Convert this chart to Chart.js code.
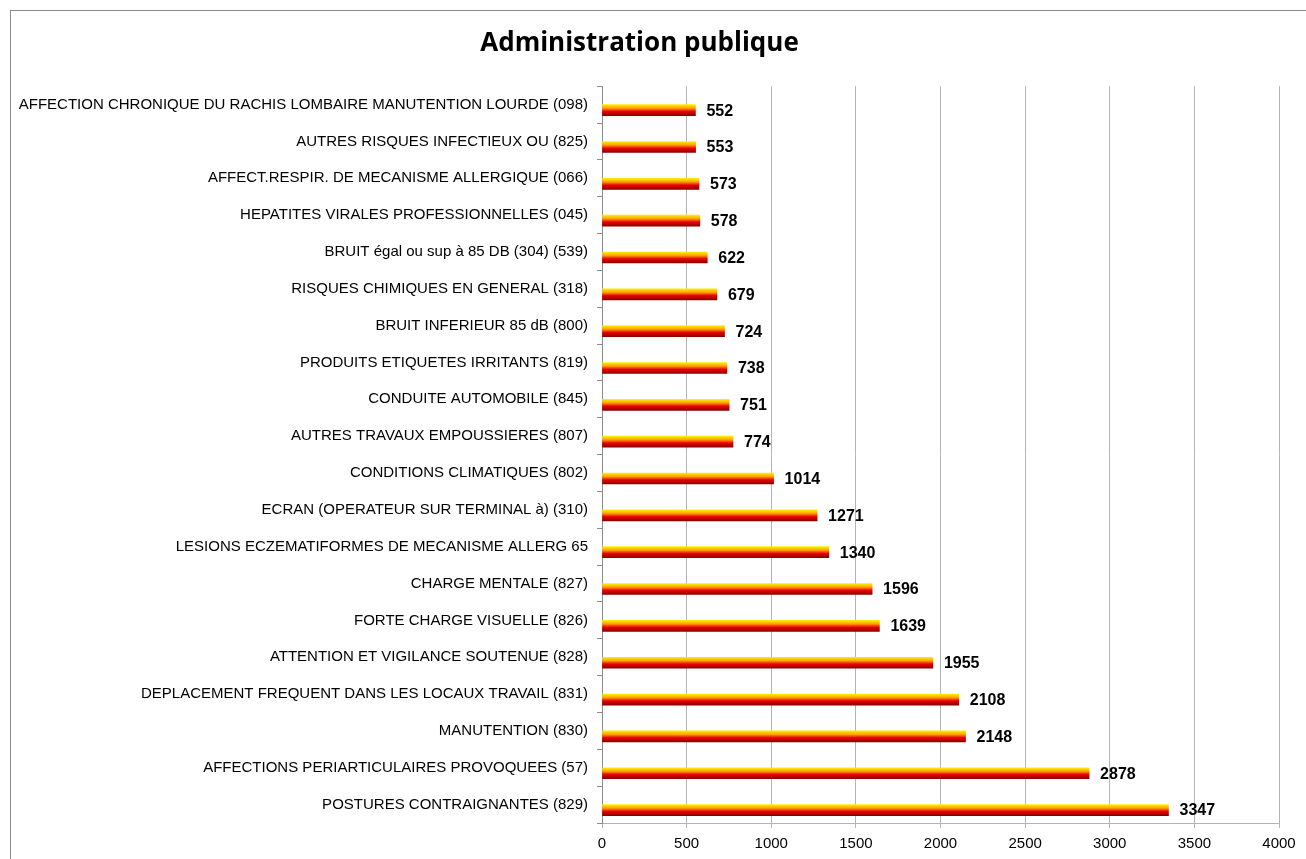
<!DOCTYPE html>
<html>
<head>
<meta charset="utf-8">
<script src="https://cdn.jsdelivr.net/npm/chart.js@4.4.0/dist/chart.umd.min.js"></script>
<style>
  html, body { margin: 0; padding: 0; background: #fff; }
  #wrap { position: relative; width: 1306px; height: 859px; overflow: hidden; }
  #frame { position: absolute; left: 10px; top: 10px; width: 1400px; height: 900px; border: 1px solid #8c8c8c; box-sizing: border-box; }
  canvas { position: absolute; left: 0; top: 0; }
</style>
</head>
<body>
<div id="wrap">
  <div id="frame"></div>
  <canvas id="myChart" width="1306" height="859"></canvas>
</div>
<script>
// categories top to bottom
const labels = [
  'AFFECTION CHRONIQUE DU RACHIS LOMBAIRE MANUTENTION LOURDE (098)',
  'AUTRES RISQUES INFECTIEUX OU (825)',
  'AFFECT.RESPIR. DE MECANISME ALLERGIQUE (066)',
  'HEPATITES VIRALES PROFESSIONNELLES (045)',
  'BRUIT égal ou sup à 85 DB (304) (539)',
  'RISQUES CHIMIQUES EN GENERAL (318)',
  'BRUIT INFERIEUR 85 dB (800)',
  'PRODUITS ETIQUETES IRRITANTS (819)',
  'CONDUITE AUTOMOBILE (845)',
  'AUTRES TRAVAUX EMPOUSSIERES (807)',
  'CONDITIONS CLIMATIQUES (802)',
  'ECRAN (OPERATEUR SUR TERMINAL à) (310)',
  'LESIONS ECZEMATIFORMES DE MECANISME ALLERG 65',
  'CHARGE MENTALE (827)',
  'FORTE CHARGE VISUELLE (826)',
  'ATTENTION ET VIGILANCE SOUTENUE (828)',
  'DEPLACEMENT FREQUENT DANS LES LOCAUX TRAVAIL (831)',
  'MANUTENTION (830)',
  'AFFECTIONS PERIARTICULAIRES PROVOQUEES (57)',
  'POSTURES CONTRAIGNANTES (829)'
];
const values = [552, 553, 573, 578, 622, 679, 724, 738, 751, 774, 1014, 1271, 1340, 1596, 1639, 1955, 2108, 2148, 2878, 3347];
// empty series, as in the source sheet (keeps the bar slot below the category centre)
const emptySeries = labels.map(() => null);
const xTicks = [0, 500, 1000, 1500, 2000, 2500, 3000, 3500, 4000];

const barH = 11;

function barGradient(context) {
  const chart = context.chart;
  const yScale = chart.scales.y;
  if (!chart.chartArea || !yScale) return '#e00000';
  // second bar of the group sits half a bar below the category centre
  const yc = yScale.getPixelForValue(context.dataIndex) + barH / 2;
  if (isNaN(yc)) return '#e00000';
  const g = chart.ctx.createLinearGradient(0, yc - barH / 2, 0, yc + barH / 2);
  g.addColorStop(0, '#ffee00');
  g.addColorStop(0.32, '#ffa000');
  g.addColorStop(0.62, '#ea0000');
  g.addColorStop(1, '#8a0000');
  return g;
}

const valueLabels = {
  id: 'valueLabels',
  afterDatasetsDraw(chart) {
    const ctx = chart.ctx;
    const meta = chart.getDatasetMeta(1);
    ctx.save();
    ctx.font = 'bold 16px "Liberation Sans", Arial, sans-serif';
    ctx.fillStyle = '#000';
    ctx.textBaseline = 'middle';
    ctx.textAlign = 'left';
    meta.data.forEach(function(bar, i) {
      ctx.fillText(values[i], bar.x + 11, bar.y + 1);
    });
    ctx.restore();
  }
};

const ctx = document.getElementById('myChart').getContext('2d');
const myChart = new Chart(ctx, {
  type: 'bar',
  data: {
    labels: labels,
    datasets: [{
      data: emptySeries,
      backgroundColor: 'rgba(0,0,0,0)',
      borderWidth: 0,
      barThickness: barH
    }, {
      data: values,
      backgroundColor: barGradient,
      borderWidth: 0,
      barThickness: barH
    }]
  },
  plugins: [valueLabels],
  options: {
    indexAxis: 'y',
    responsive: false,
    animation: false,
    layout: { padding: { left: 0, right: 27, top: 0, bottom: 0 } },
    plugins: {
      legend: { display: false },
      tooltip: { enabled: false },
      title: {
        display: true,
        text: 'Administration publique',
        color: '#000',
        font: { family: '"Open Sans", "Liberation Sans", sans-serif', size: 26, weight: 'bold', lineHeight: 1.2 },
        padding: { top: 28, bottom: 27 }
      }
    },
    scales: {
      x: {
        min: 0,
        max: 4000,
        afterBuildTicks(scale) { scale.ticks = xTicks.map(v => ({ value: v })); },
        afterFit(scale) { scale.height = 36; },
        grid: { color: '#b4b4b4', lineWidth: 1, tickLength: 5, drawTicks: true },
        border: { color: '#b4b4b4' },
        ticks: {
          color: '#000',
          padding: 7,
          callback: v => String(v),
          font: { family: '"Liberation Sans", Arial, sans-serif', size: 15 }
        }
      },
      y: {
        afterFit(scale) { scale.width = 602; },
        grid: { drawOnChartArea: false, drawTicks: true, tickLength: 5, color: '#8c8c8c', offset: true },
        border: { color: '#8c8c8c' },
        ticks: {
          color: '#000',
          padding: 9,
          autoSkip: false,
          font: { family: '"Liberation Sans", Arial, sans-serif', size: 15 }
        }
      }
    }
  }
});
</script>
</body>
</html>
